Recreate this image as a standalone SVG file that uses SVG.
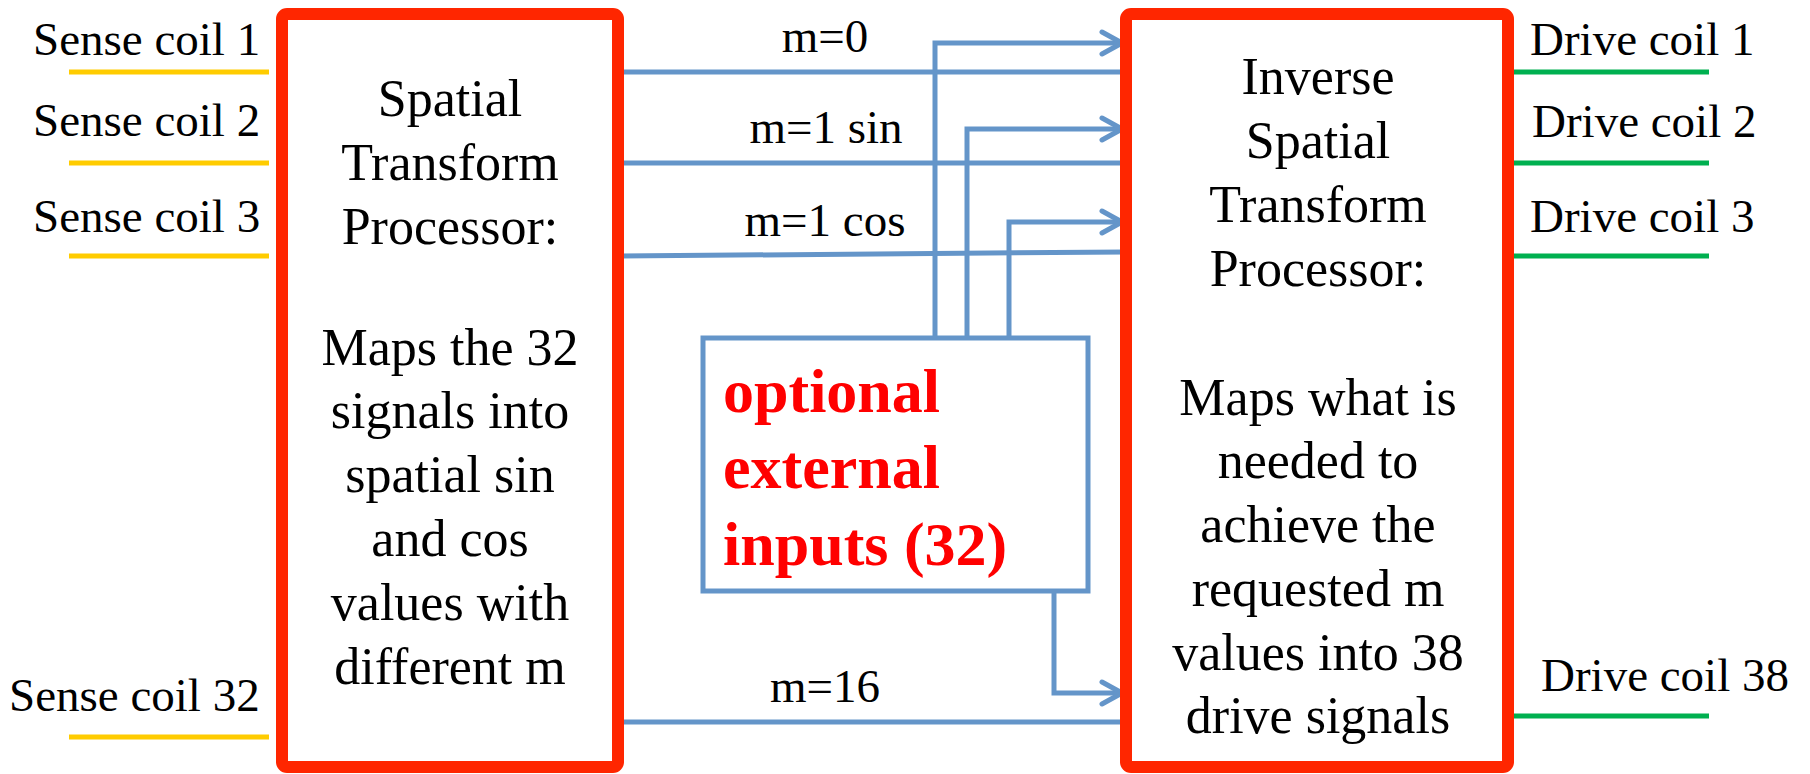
<svg xmlns="http://www.w3.org/2000/svg" width="1810" height="774" viewBox="0 0 1810 774">
<style>
text{font-family:'Liberation Serif','DejaVu Serif',serif}
.t{fill:#000}
.lbl{font-size:47px}
.box{font-size:52px;text-anchor:middle}
.ml{font-size:47px;text-anchor:middle}
.proc{fill:#fff;stroke:#FF2600;stroke-width:12}
.conn{fill:none;stroke:#6495C9;stroke-width:5}
.sense{stroke:#FFCC00;stroke-width:5}
.drive{stroke:#00B050;stroke-width:5}
.opt{font-weight:bold;font-size:62px;fill:#FF0000}
</style>
<defs>
<marker id="arr" markerUnits="userSpaceOnUse" markerWidth="26" markerHeight="28" viewBox="0 0 26 28" refX="23" refY="14" orient="auto">
<path d="M3,3 L23,14 L3,25" fill="none" stroke="#6495C9" stroke-width="5" stroke-linecap="round" stroke-linejoin="round"/>
</marker>
</defs>
<rect width="1810" height="774" fill="#fff"/>

<g id="sense-coils" font-family="Liberation Serif">
<text class="t lbl" x="33" y="55">Sense coil 1</text>
<line class="sense" x1="69" y1="72" x2="269" y2="72"/>
<text class="t lbl" x="33" y="136">Sense coil 2</text>
<line class="sense" x1="69" y1="163" x2="269" y2="163"/>
<text class="t lbl" x="33" y="232">Sense coil 3</text>
<line class="sense" x1="69" y1="256" x2="269" y2="256"/>
<text class="t lbl" x="9" y="711">Sense coil 32</text>
<line class="sense" x1="69" y1="737" x2="269" y2="737"/>
</g>

<g id="drive-coils">
<text class="t lbl" x="1530" y="55">Drive coil 1</text>
<line class="drive" x1="1510" y1="72" x2="1709" y2="72"/>
<text class="t lbl" x="1532" y="137">Drive coil 2</text>
<line class="drive" x1="1510" y1="163" x2="1709" y2="163"/>
<text class="t lbl" x="1530" y="232">Drive coil 3</text>
<line class="drive" x1="1510" y1="256" x2="1709" y2="256"/>
<text class="t lbl" x="1541" y="691">Drive coil 38</text>
<line class="drive" x1="1510" y1="716" x2="1709" y2="716"/>
</g>

<g id="connectors">
<line class="conn" x1="620" y1="72" x2="1122" y2="72"/>
<line class="conn" x1="620" y1="163" x2="1122" y2="163"/>
<line class="conn" x1="620" y1="256" x2="1126" y2="252"/>
<line class="conn" x1="620" y1="722" x2="1124" y2="722"/>
<path class="conn" d="M935,338 V43 H1122" marker-end="url(#arr)"/>
<path class="conn" d="M967,338 V129 H1122" marker-end="url(#arr)"/>
<path class="conn" d="M1009,338 V222 H1122" marker-end="url(#arr)"/>
<path class="conn" d="M1054,591 V693 H1122" marker-end="url(#arr)"/>
<text class="t ml" x="825" y="52">m=0</text>
<text class="t ml" x="826" y="143">m=1 sin</text>
<text class="t ml" x="825" y="236">m=1 cos</text>
<text class="t ml" x="825" y="702">m=16</text>
</g>

<g id="spatial-transform">
<rect class="proc" x="282" y="14" width="336" height="753" rx="5"/>
<text class="t box" x="450" y="116">Spatial</text>
<text class="t box" x="450" y="180">Transform</text>
<text class="t box" x="450" y="244">Processor:</text>
<text class="t box" x="450" y="365">Maps the 32</text>
<text class="t box" x="450" y="428">signals into</text>
<text class="t box" x="450" y="492">spatial sin</text>
<text class="t box" x="450" y="556">and cos</text>
<text class="t box" x="450" y="620">values with</text>
<text class="t box" x="450" y="684">different m</text>
</g>

<g id="inverse-transform">
<rect class="proc" x="1126" y="14" width="382" height="753" rx="5"/>
<text class="t box" x="1318" y="94">Inverse</text>
<text class="t box" x="1318" y="158">Spatial</text>
<text class="t box" x="1318" y="222">Transform</text>
<text class="t box" x="1318" y="286">Processor:</text>
<text class="t box" x="1318" y="415">Maps what is</text>
<text class="t box" x="1318" y="478">needed to</text>
<text class="t box" x="1318" y="542">achieve the</text>
<text class="t box" x="1318" y="606">requested m</text>
<text class="t box" x="1318" y="670">values into 38</text>
<text class="t box" x="1318" y="733">drive signals</text>
</g>

<g id="optional-inputs">
<rect x="703" y="338" width="385" height="253" fill="#fff" stroke="#6495C9" stroke-width="5"/>
<text class="opt" x="723" y="412">optional</text>
<text class="opt" x="723" y="488">external</text>
<text class="opt" x="723" y="565">inputs (32)</text>
</g>
</svg>
